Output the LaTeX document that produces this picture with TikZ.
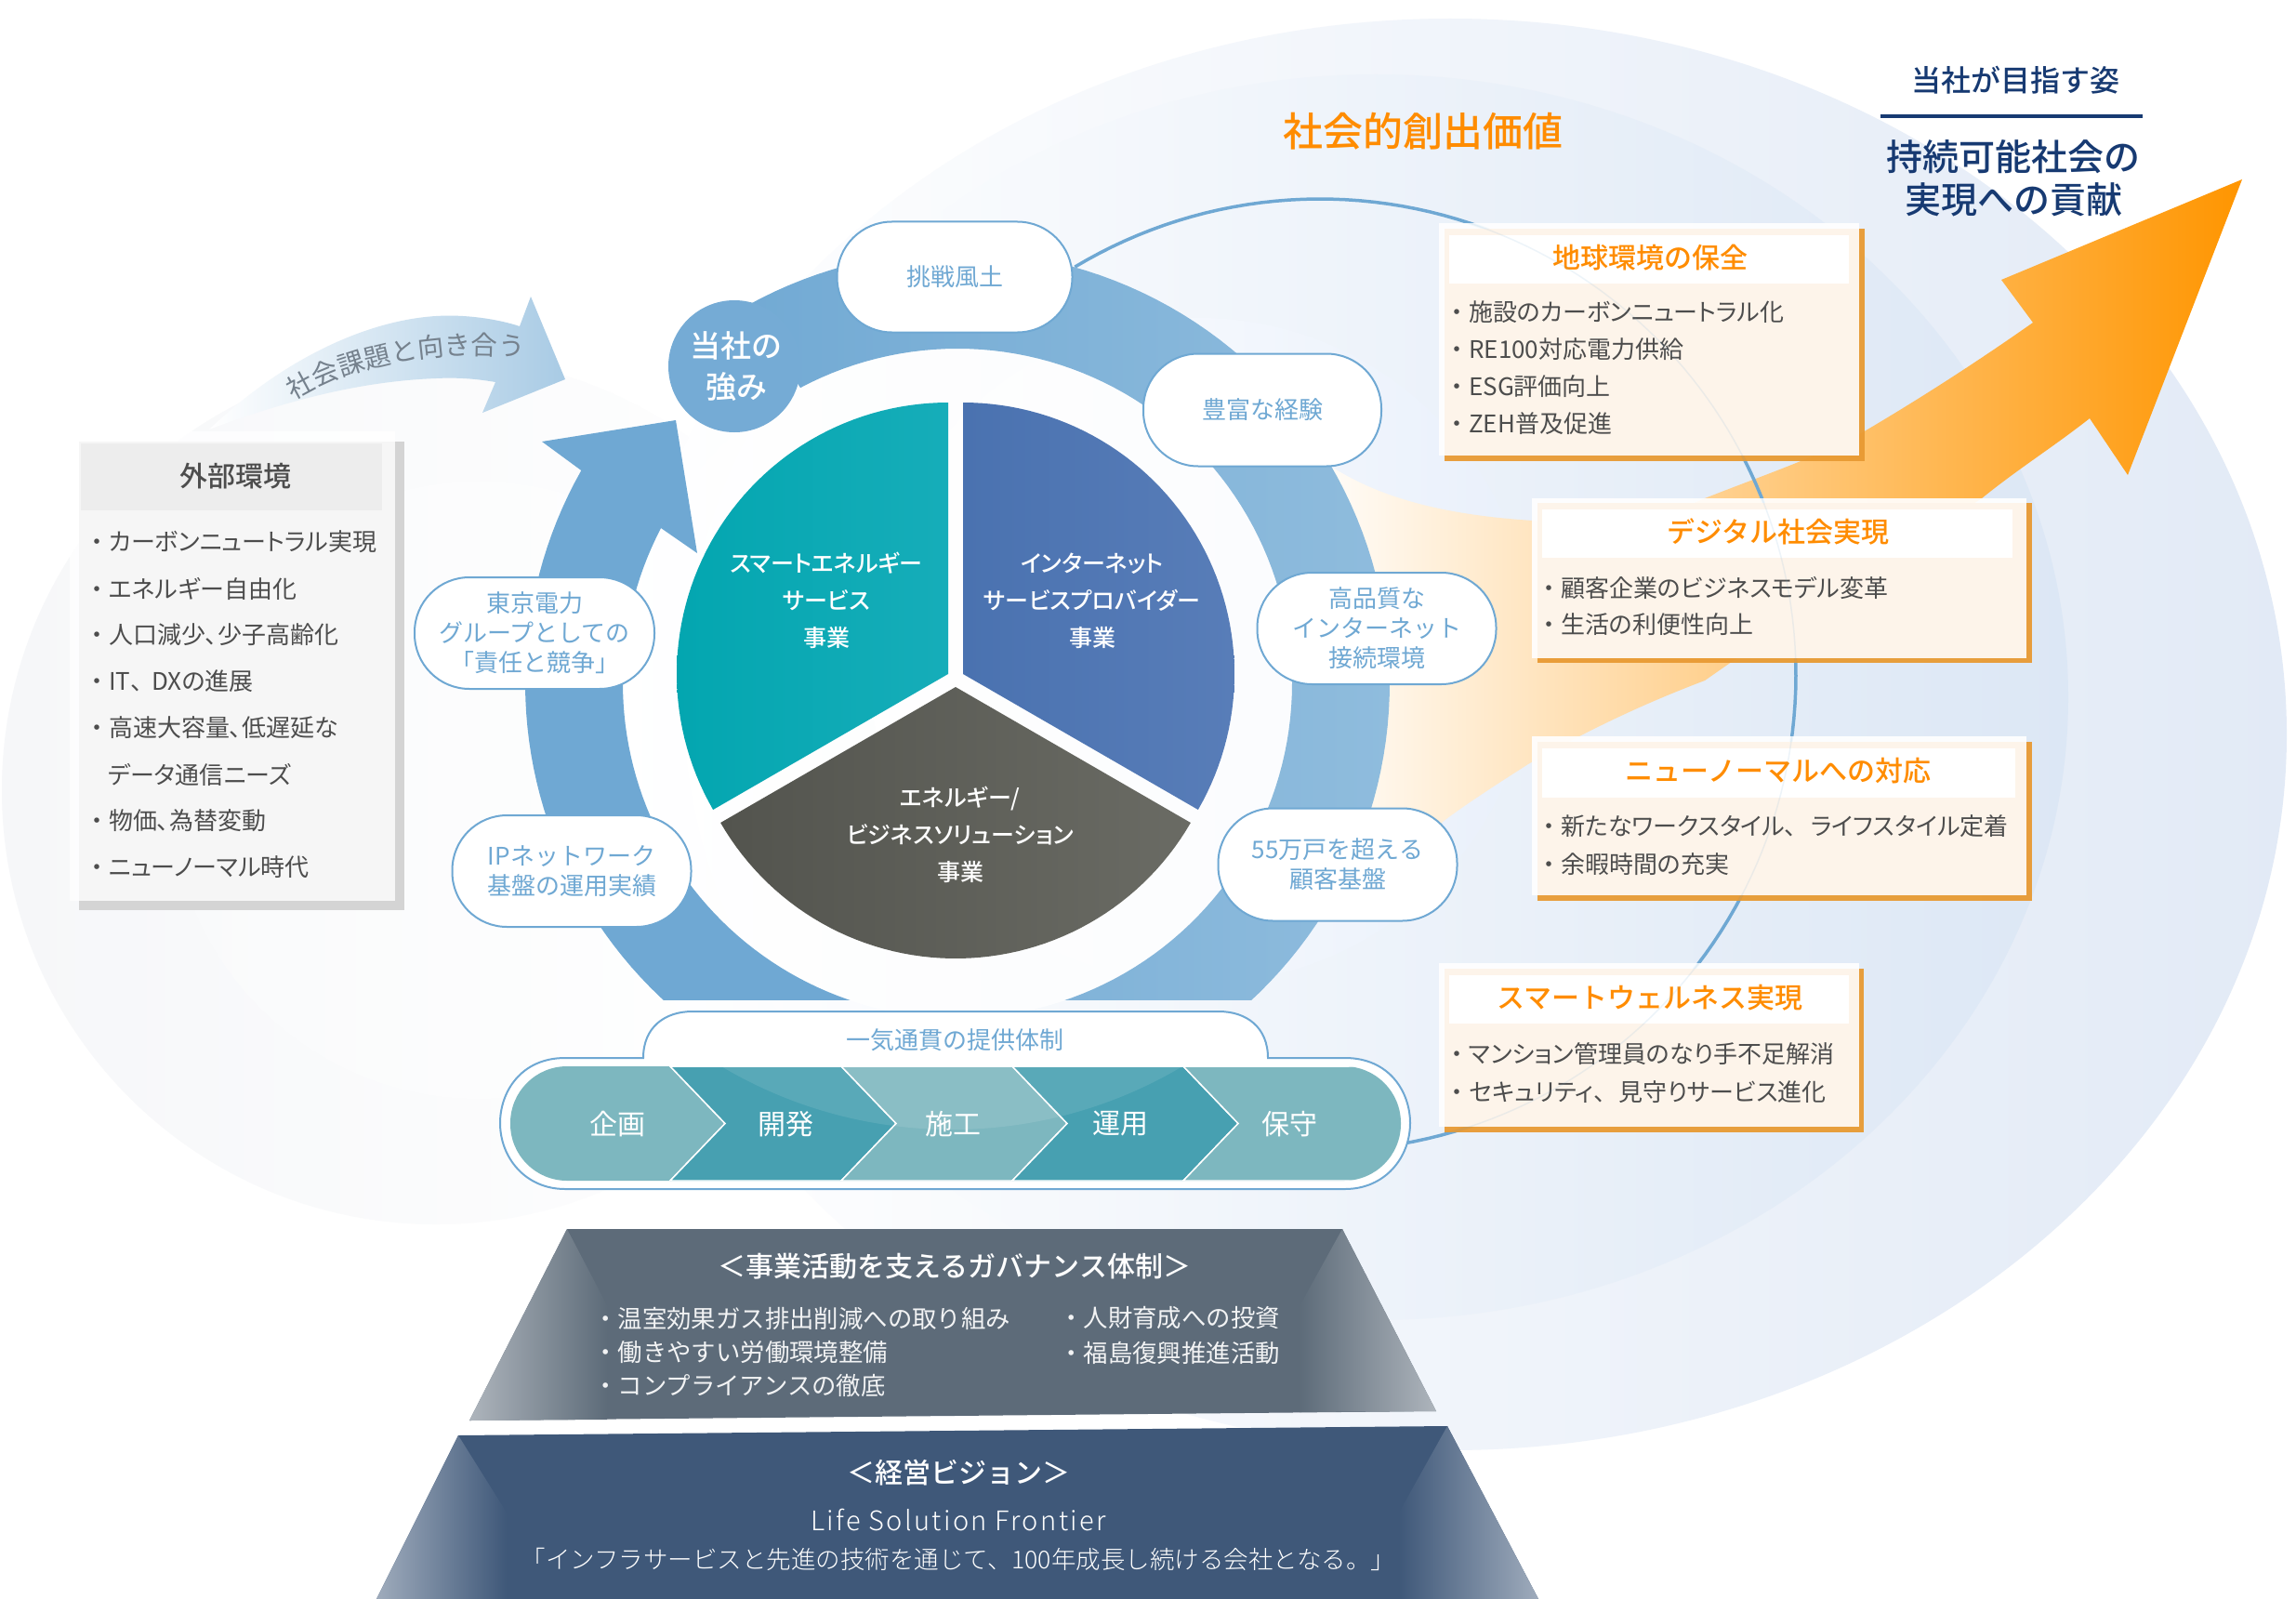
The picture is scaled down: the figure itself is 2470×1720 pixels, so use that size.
\documentclass[tikz,border=0pt]{standalone}
\usepackage{fontspec}
\usetikzlibrary{decorations.text}
\setmainfont{Noto Sans CJK JP}[RawFeature=+palt]
\newfontfamily\jpplain{Noto Sans CJK JP}
\newfontfamily\jpbold{Noto Sans CJK JP Bold}
\newfontfamily\jpmed{Noto Sans CJK JP Medium}
\newfontfamily\jpmedp{Noto Sans CJK JP Medium}[RawFeature=+palt]
\newfontfamily\jplight{Noto Sans CJK JP Light}
\newfontfamily\jplatin{Noto Sans CJK JP Light}[LetterSpace=8]
\newcommand{\blt}{・\hspace{6pt}}
\definecolor{ringblue}{HTML}{6FA8D3}
\definecolor{ringlight}{HTML}{8FBCDD}
\definecolor{ttl}{HTML}{FF8C00}
\definecolor{navy}{HTML}{173A72}
\definecolor{txt}{HTML}{4D4D4D}
\definecolor{cream}{HTML}{FDF4EA}
\definecolor{shad}{HTML}{E89A33}
\definecolor{gvs}{HTML}{5D6B79}
\definecolor{vis}{HTML}{3F5879}
\definecolor{chA}{HTML}{7DB7BF}
\definecolor{chB}{HTML}{47A0B1}
\definecolor{tealA}{HTML}{03A6B0}\definecolor{tealB}{HTML}{16ADB9}
\definecolor{blueA}{HTML}{4A72B0}\definecolor{blueB}{HTML}{587DB8}
\definecolor{grayA}{HTML}{53544E}\definecolor{grayB}{HTML}{6A6B64}
\definecolor{bgA}{HTML}{F6F7F9}\definecolor{bgB}{HTML}{F9FAFB}
\definecolor{bgC}{HTML}{E2EAF6}\definecolor{bgCm}{HTML}{FCFDFE}
\definecolor{bgD}{HTML}{DCE7F5}\definecolor{bgDm}{HTML}{F9FBFE}
\definecolor{bgE}{HTML}{E9F0FB}
\tikzset{
 pill/.style={draw=ringblue,line width=2pt,fill=white,rounded corners=59pt,align=center,text=ringblue,inner sep=0pt,font=\jpplain\fontsize{26}{32}\selectfont},
 sect/.style={font=\jpmedp\fontsize{25}{40}\selectfont,text=white,align=center,inner sep=0pt},
 lineitem/.style={anchor=west,inner sep=0pt,text=txt,font=\fontsize{26}{30}\selectfont},
 govitem/.style={anchor=west,inner sep=0pt,text=white!92!gvs,font=\jpplain\fontsize{26.4}{30}\selectfont},
 boxtitle/.style={inner sep=0pt,text=ttl,font=\jpmed\fontsize{30}{34}\selectfont},
 chlabel/.style={inner sep=0pt,text=white,font=\jpplain\fontsize{30}{34}\selectfont},
 framew/.style={fill=white,opacity=.92},
 shadw/.style={fill=shad,opacity=.95},
 creamf/.style={fill=cream},
}
\begin{document}
\begin{tikzpicture}[x=1pt,y=-1pt]
\useasboundingbox (0,0) rectangle (2470,1720);
\fill[white] (0,0) rectangle (2470,1720);
% background circles, left
\shade[left color=bgA,right color=white] (469,850) circle (467);
\shade[left color=bgB,right color=white] (515,850) circle (332);
% background circles, right
\shade[left color=white,middle color=bgCm,right color=bgC] (1560,790) ellipse (900 and 770);
\shade[left color=white,middle color=bgDm,right color=bgD] (1480,750) ellipse (745 and 670);
\shade[left color=white,right color=bgE] (1290,700) circle (358);
% inner disc
\fill[white,opacity=.75] (1030,735) circle (360);
% orange swoosh
\shade[left color=white,middle color=orange!32!white,right color=ttl!92!yellow]
 (1400,600) -- (1434,503) .. controls (1500,545) and (1590,560) .. (1700,562) .. controls (1760,562) and (1800,552) .. (1834,536)
 .. controls (1900,510) and (1960,490) .. (2009,462) .. controls (2080,420) and (2140,380) .. (2187,347)
 -- (2153,301) -- (2412,193) -- (2289,511) -- (2248,450) .. controls (2210,480) and (2170,505) .. (2132,536)
 .. controls (2050,590) and (1950,660) .. (1867,709) -- (1834,732) .. controls (1760,760) and (1700,790) .. (1644,822)
 .. controls (1600,850) and (1570,870) .. (1552,884) -- (1490,960) -- (1420,950) -- cycle;
% curve behind the boxes
\draw[ringblue,line width=3.5pt] plot[domain=-121:82,samples=120] ({1420+512*cos(\x)},{726+512*sin(\x)});
% ring
\begin{scope}
\clip (0,0) rectangle (2470,1075);
\shade[left color=ringblue!90!ringlight,right color=ringlight]
 plot[domain=-119:80,samples=100] ({1030+465*cos(\x)},{735+465*sin(\x)})
 -- plot[domain=80:-118,samples=100] ({1030+360*cos(\x)},{735+360*sin(\x)}) -- cycle;
\fill[ringblue]
 plot[domain=100:209.5,samples=60] ({1030+465*cos(\x)},{735+465*sin(\x)})
 -- (583,475) -- (727,452) -- (750,595) -- (711,568)
 -- plot[domain=207.6:100,samples=60] ({1030+360*cos(\x)},{735+360*sin(\x)}) -- cycle;
\end{scope}
\fill[ringblue!96!white] (790,394) circle (71);
\node[font=\jpmed\fontsize{33}{44}\selectfont,text=white,align=center,inner sep=0pt] (strength) at (792,394) {当社の\\強み};
% pie
\shade[left color=tealA,right color=tealB] (1020,725) -- plot[domain=150:270,samples=60] ({1020+292*cos(\x)},{725+292*sin(\x)}) -- cycle;
\shade[left color=blueA,right color=blueB] (1036,725) -- plot[domain=-90:30,samples=60] ({1036+292*cos(\x)},{725+292*sin(\x)}) -- cycle;
\shade[left color=grayA,right color=grayB] (1028,739) -- plot[domain=30:150,samples=60] ({1028+292*cos(\x)},{739+292*sin(\x)}) -- cycle;
\node[sect] (smart) at (889,646) {スマートエネルギー\\サービス\\事業};
\node[sect] (isp) at (1175,646) {インターネット\\サービスプロバイダー\\事業};
\node[sect] (ebs) at (1033,898) {エネルギー/\\ビジネスソリューション\\事業};
% pills
\node[pill,minimum width=253pt,minimum height=119pt] (p1) at (1027,298) {挑戦風土};
\node[pill,minimum width=256pt,minimum height=121pt] (p2) at (1358,441) {豊富な経験};
\node[pill,minimum width=257pt,minimum height=120pt] (p3) at (1481,676) {高品質な\\インターネット\\接続環境};
\node[pill,minimum width=257pt,minimum height=121pt] (p4) at (1439,930) {55万戸を超える\\顧客基盤};
\node[pill,minimum width=258pt,minimum height=120pt] (p5) at (575,681) {東京電力\\グループとしての\\「責任と競争」};
\node[pill,minimum width=257pt,minimum height=120pt] (p6) at (615,937) {IPネットワーク\\基盤の運用実績};
% capsule
\draw[ringblue,line width=2pt,fill=white] (692,1138) .. controls (692,1105) and (715,1088) .. (745,1088) -- (1311,1088)
 .. controls (1341,1088) and (1364,1105) .. (1364,1138) -- (1447,1138) .. controls (1495,1138) and (1517,1175) .. (1517,1208)
 .. controls (1517,1245) and (1490,1279) .. (1447,1279) -- (608,1279) .. controls (565,1279) and (538,1245) .. (538,1208)
 .. controls (538,1175) and (560,1138) .. (608,1138) -- cycle;
\begin{scope}
\clip[rounded corners=61pt] (549,1147) rectangle (1507,1270);
\filldraw[fill=chA,draw=white,line width=1.5pt] (530,1140) -- (721,1140) -- (721,1147) -- (780,1208.5) -- (721,1270) -- (721,1280) -- (530,1280) -- cycle;
\filldraw[fill=chB,draw=white,line width=1.5pt] (721,1147) -- (905,1147) -- (964,1208.5) -- (905,1270) -- (721,1270) -- (780,1208.5) -- cycle;
\filldraw[fill=chA,draw=white,line width=1.5pt] (905,1147) -- (1089,1147) -- (1148,1208.5) -- (1089,1270) -- (905,1270) -- (964,1208.5) -- cycle;
\filldraw[fill=chB,draw=white,line width=1.5pt] (1089,1147) -- (1273,1147) -- (1332,1208.5) -- (1273,1270) -- (1089,1270) -- (1148,1208.5) -- cycle;
\filldraw[fill=chA,draw=white,line width=1.5pt] (1273,1147) -- (1520,1147) -- (1520,1270) -- (1273,1270) -- (1332,1208.5) -- cycle;
\fill[white,opacity=.1] (1024,729) circle (486);
\end{scope}
\node[chlabel] (c1) at (664,1209) {企画};
\node[chlabel] (c2) at (845,1209) {開発};
\node[chlabel] (c3) at (1025,1209) {施工};
\node[chlabel] (c4) at (1205,1209) {運用};
\node[chlabel] (c5) at (1387,1209) {保守};
\node[inner sep=0pt,text=ringblue,font=\jpplain\fontsize{26}{30}\selectfont] (oneway) at (1027,1119) {一気通貫の提供体制};
% value boxes
\fill[framew] (1548,240) rectangle (2000,490);
\fill[shadw] (1554,246) rectangle (2006,496);
\fill[creamf] (1554,246) rectangle (2000,490);
\fill[white] (1559,253) rectangle (1989,305);
\node[boxtitle] (t1) at (1775,277) {地球環境の保全};
\node[lineitem] (l11) at (1561,336) {\blt 施設のカーボンニュートラル化};
\node[lineitem] (l12) at (1561,376) {\blt RE100対応電力供給};
\node[lineitem] (l13) at (1561,416) {\blt ESG評価向上};
\node[lineitem] (l14) at (1561,456) {\blt ZEH普及促進};
\fill[framew] (1648,536) rectangle (2180,708);
\fill[shadw] (1654,541) rectangle (2186,713);
\fill[creamf] (1654,541) rectangle (2180,708);
\fill[white] (1659,548) rectangle (2165,600);
\node[boxtitle] (t2) at (1913,572) {デジタル社会実現};
\node[lineitem] (l21) at (1660,632) {\blt 顧客企業のビジネスモデル変革};
\node[lineitem] (l22) at (1660,672) {\blt 生活の利便性向上};
\fill[framew] (1648,792) rectangle (2180,963);
\fill[shadw] (1654,798) rectangle (2186,969);
\fill[creamf] (1654,798) rectangle (2180,963);
\fill[white] (1659,805) rectangle (2168,858);
\node[boxtitle] (t3) at (1913,829) {ニューノーマルへの対応};
\node[lineitem] (l31) at (1660,889) {\blt 新たなワークスタイル、\hspace{15pt}ライフスタイル定着};
\node[lineitem] (l32) at (1660,930) {\blt 余暇時間の充実};
\fill[framew] (1548,1036) rectangle (2000,1212);
\fill[shadw] (1554,1042) rectangle (2005,1218);
\fill[creamf] (1554,1042) rectangle (2000,1212);
\fill[white] (1559,1049) rectangle (1989,1101);
\node[boxtitle] (t4) at (1775,1073) {スマートウェルネス実現};
\node[lineitem] (l41) at (1561,1134) {\blt マンション管理員のなり手不足解消};
\node[lineitem] (l42) at (1561,1175) {\blt セキュリティ、\hspace{14pt}見守りサービス進化};
\draw[ringblue,opacity=.12,line width=1.5pt] plot[domain=-72:78,samples=100] ({1420+512*cos(\x)},{726+512*sin(\x)});
% external environment
\fill[white,opacity=.8] (75,464) rectangle (425,969);
\fill[black!17] (85,475) rectangle (435,979);
\fill[black!3.5] (85,475) rectangle (425,969);
\fill[black!7] (87,477) rectangle (411,549);
\node[inner sep=0pt,text=txt,font=\jpmed\fontsize{30}{34}\selectfont] (ext) at (253,512) {外部環境};
\node[lineitem] (e1) at (98,583) {\blt カーボンニュートラル実現};
\node[lineitem] (e2) at (98,633) {\blt エネルギー自由化};
\node[lineitem] (e3) at (98,683) {\blt 人口減少、少子高齢化};
\node[lineitem] (e4) at (98,733) {\blt IT、\hspace{10pt}DXの進展};
\node[lineitem] (e5) at (98,783) {\blt 高速大容量、低遅延な};
\node[lineitem] (e6) at (116,833) {データ通信ニーズ};
\node[lineitem] (e7) at (98,883) {\blt 物価、為替変動};
\node[lineitem] (e8) at (98,933) {\blt ニューノーマル時代};
% social-issues arrow
\shade[left color=white,right color=ringblue!60!white] (225,462) .. controls (300,390) and (390,345) .. (469,340) .. controls (500,338) and (535,343) .. (559,351)
 -- (571,319) -- (608,408) -- (519,444) -- (533,411) .. controls (510,407) and (490,406) .. (469,407) .. controls (390,410) and (310,430) .. (225,462) -- cycle;
\path[decorate,decoration={text along path,text align={center},
 text={|\jpplain\fontsize{28.5}{30}\selectfont\color{gvs!85!white}|社会課題と向き合う}}]
 (314,432) .. controls (370,396) and (470,372) .. (566,385);
% headings
\node[inner sep=0pt,text=ttl,font=\jpmed\fontsize{43}{48}\selectfont] (value) at (1531,141) {社会的創出価値};
\node[inner sep=0pt,text=navy,font=\jpmed\fontsize{32}{36}\selectfont] (aim) at (2168,86) {当社が目指す姿};
\coordinate (ruleL) at (2023,125); \coordinate (ruleR) at (2305,125);
\draw[navy,line width=3.5pt] (ruleL) -- (ruleR);
\node[inner sep=0pt,text=navy,align=center,font=\jpmed\fontsize{39}{46}\selectfont] (goal) at (2166,192) {持続可能社会の\\実現への貢献};
% governance trapezoid
\fill[gvs] (610,1322) -- (1444,1322) -- (1545,1518) -- (505,1528) -- cycle;
\shade[left color=gvs!50!white,right color=gvs] (610,1322) -- (653,1404) -- (653,1527) -- (505,1528) -- cycle;
\shade[left color=gvs,right color=gvs!50!white] (1444,1322) -- (1398,1405) -- (1398,1519) -- (1545,1518) -- cycle;
\node[inner sep=0pt,text=white,font=\jpmed\fontsize{30}{34}\selectfont] (gvt) at (1027,1362) {＜事業活動を支えるガバナンス体制＞};
\node[govitem] (g1) at (638,1418) {・温室効果ガス排出削減への取り組み};
\node[govitem] (g2) at (638,1455) {・働きやすい労働環境整備};
\node[govitem] (g3) at (638,1491) {・コンプライアンスの徹底};
\node[govitem] (g4) at (1139,1418) {・人財育成への投資};
\node[govitem] (g5) at (1139,1455) {・福島復興推進活動};
% vision trapezoid
\fill[vis] (493,1544) -- (1557,1534) -- (1655,1720) -- (405,1720) -- cycle;
\shade[left color=vis!50!white,right color=vis] (493,1544) -- (545,1627) -- (545,1720) -- (405,1720) -- cycle;
\shade[left color=vis,right color=vis!50!white] (1557,1534) -- (1505,1627) -- (1505,1720) -- (1655,1720) -- cycle;
\node[inner sep=0pt,text=white,font=\jpmed\fontsize{30}{34}\selectfont] (vst) at (1031,1584) {＜経営ビジョン＞};
\node[inner sep=0pt,text=white,font=\jplatin\fontsize{29}{34}\selectfont] (lsf) at (1031,1635) {Life Solution Frontier};
\node[inner sep=0pt,text=white,font=\jplight\fontsize{26.5}{30}\selectfont] (vtx) at (1031,1677) {「インフラサービスと先進の技術を通じて、100年成長し続ける会社となる。」};
\end{tikzpicture}
\end{document}
